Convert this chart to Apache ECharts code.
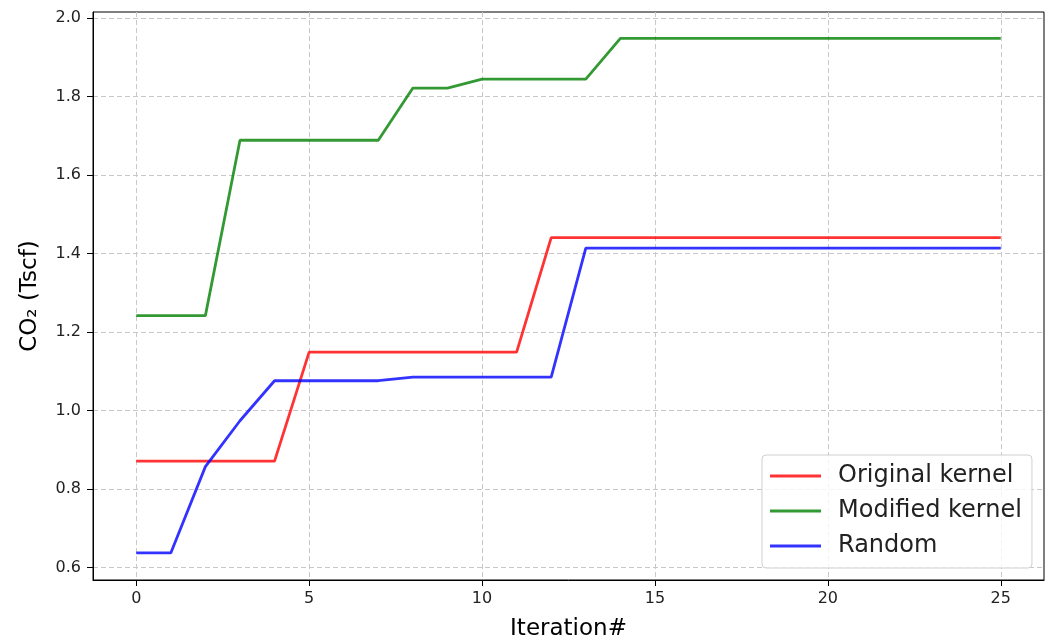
<!DOCTYPE html>
<html>
<head>
<meta charset="utf-8">
<script src="https://cdn.jsdelivr.net/npm/echarts@6/dist/echarts.min.js"></script>
<style>
  html, body { margin: 0; padding: 0; background: #fff; }
  #chart { width: 1051px; height: 638px; }
</style>
</head>
<body>
<div id="chart"></div>
<script>
// Iteration index for every recorded step
const iterations = [0,1,2,3,4,5,6,7,8,9,10,11,12,13,14,15,16,17,18,19,20,21,22,23,24,25];

// Best CO2 storage found so far (Tscf) per strategy
const originalKernel = [0.871,0.871,0.871,0.871,0.871,1.149,1.149,1.149,1.149,1.149,1.149,1.149,1.441,1.441,1.441,1.441,1.441,1.441,1.441,1.441,1.441,1.441,1.441,1.441,1.441,1.441];
const modifiedKernel = [1.242,1.242,1.242,1.689,1.689,1.689,1.689,1.689,1.822,1.822,1.845,1.845,1.845,1.845,1.949,1.949,1.949,1.949,1.949,1.949,1.949,1.949,1.949,1.949,1.949,1.949];
const randomSearch   = [0.637,0.637,0.857,0.974,1.076,1.076,1.076,1.076,1.085,1.085,1.085,1.085,1.085,1.414,1.414,1.414,1.414,1.414,1.414,1.414,1.414,1.414,1.414,1.414,1.414,1.414];

const seriesNames = ['Original kernel', 'Modified kernel', 'Random'];
const xTicks = [0, 5, 10, 15, 20, 25];
const yTicks = [0.6, 0.8, 1.0, 1.2, 1.4, 1.6, 1.8, 2.0];

const FONT = 'DejaVu Sans';
const colors = ['rgba(255,0,0,0.8)', 'rgba(0,128,0,0.8)', 'rgba(0,0,255,0.8)'];
const seriesValues = [originalKernel, modifiedKernel, randomSearch];

const gridLine = { show: true, lineStyle: { color: '#c8c8c8', type: [5, 3], width: 1 } };

const chart = echarts.init(document.getElementById('chart'), null, { renderer: 'canvas' });
chart.setOption({
  animation: false,
  backgroundColor: '#ffffff',
  grid: {
    left: 93, right: 7, top: 12, bottom: 58,
    outerBoundsMode: 'none',
    containLabel: false,
    show: true, borderColor: '#000', borderWidth: 1, backgroundColor: 'transparent'
  },
  xAxis: {
    type: 'value',
    min: -1.25, max: 26.25,
    name: 'Iteration#',
    nameLocation: 'middle',
    nameGap: 38,
    nameTextStyle: { fontFamily: FONT, fontSize: 23, color: '#000' },
    axisLine: { show: true, onZero: false, lineStyle: { color: '#000', width: 1 } },
    axisTick: { show: true, length: 6, lineStyle: { color: '#000' }, customValues: xTicks },
    axisLabel: { fontFamily: FONT, fontSize: 16, color: '#222', margin: 11, customValues: xTicks },
    splitLine: gridLine
  },
  yAxis: {
    type: 'value',
    min: 0.568, max: 2.016,
    name: 'CO₂ (Tscf)',
    nameLocation: 'middle',
    nameGap: 51,
    nameTextStyle: { fontFamily: FONT, fontSize: 23, color: '#000' },
    axisLine: { show: true, onZero: false, lineStyle: { color: '#000', width: 1 } },
    axisTick: { show: true, length: 6, lineStyle: { color: '#000' }, customValues: yTicks },
    axisLabel: {
      fontFamily: FONT, fontSize: 16, color: '#222', margin: 12, customValues: yTicks,
      formatter: v => v.toFixed(1)
    },
    splitLine: gridLine
  },
  legend: {
    orient: 'vertical',
    left: 762, top: 455,
    padding: [9, 10, 10, 8],
    backgroundColor: 'rgba(255,255,255,0.8)',
    borderColor: '#d0d0d0', borderWidth: 1, borderRadius: 4,
    icon: 'rect',
    itemWidth: 51, itemHeight: 3, itemGap: 11,
    textStyle: { fontFamily: FONT, fontSize: 24, color: '#222', lineHeight: 24, padding: [0, 0, 0, 12] },
    data: seriesNames
  },
  series: seriesNames.map((name, i) => ({
    name,
    type: 'line',
    data: iterations.map((x, k) => [x, seriesValues[i][k]]),
    showSymbol: false,
    symbol: 'none',
    lineStyle: { color: colors[i], width: 2.8 },
    itemStyle: { color: colors[i] },
    z: 3 + i
  }))
});
</script>
</body>
</html>
